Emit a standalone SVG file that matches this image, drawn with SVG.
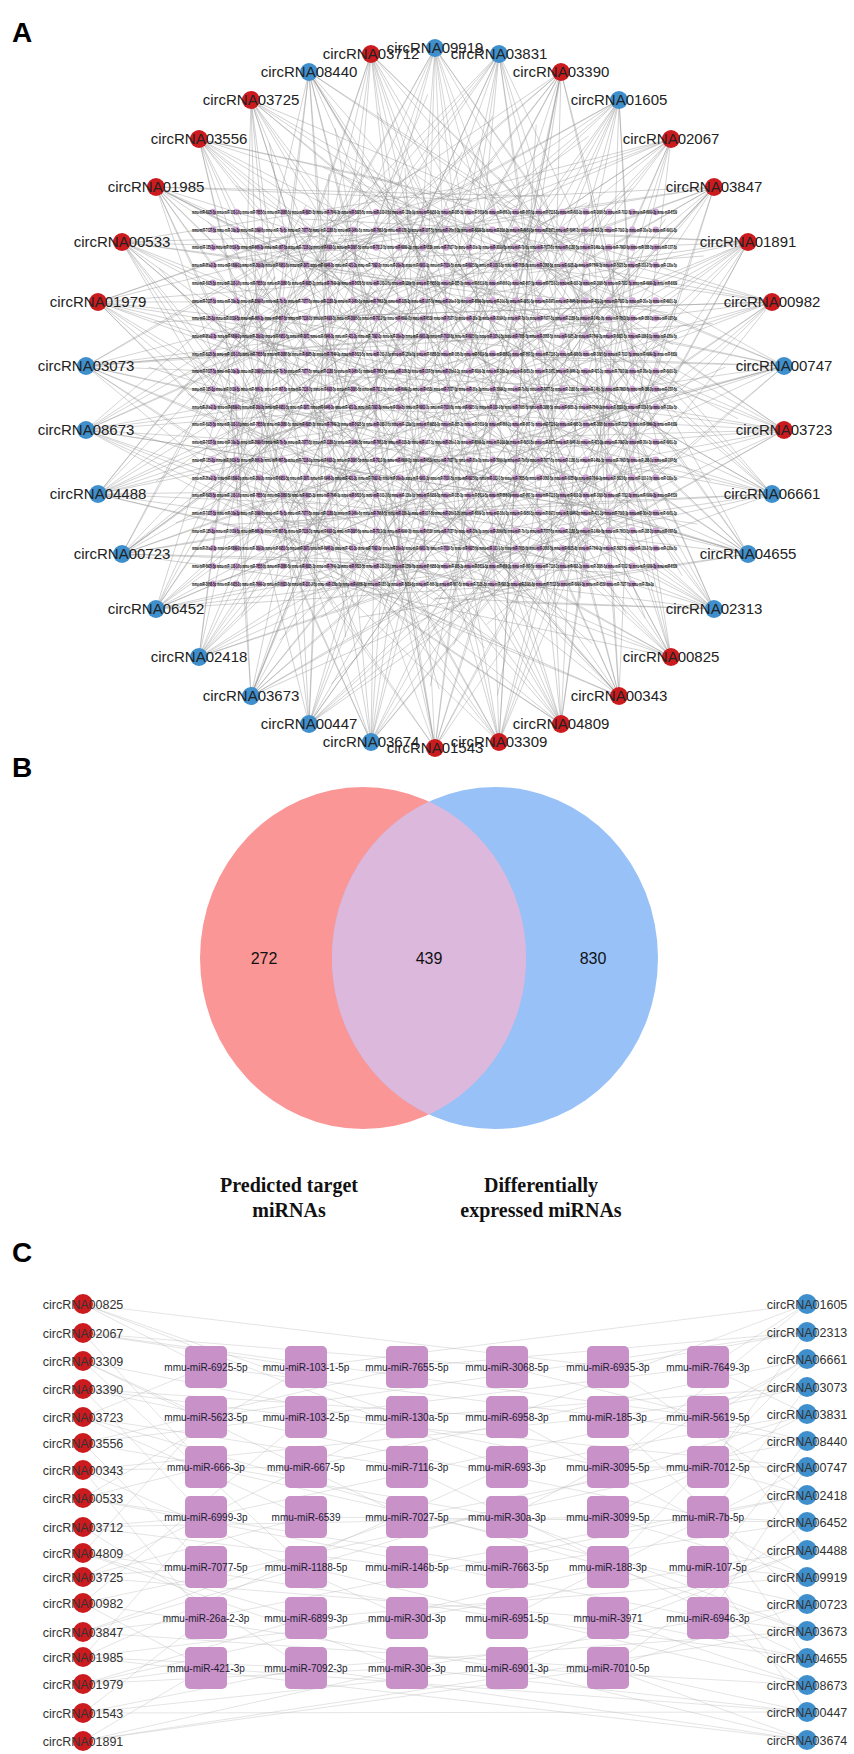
<svg xmlns="http://www.w3.org/2000/svg" xmlns:xlink="http://www.w3.org/1999/xlink" width="854" height="1754" viewBox="0 0 854 1754">
<style>
.panel{font:bold 28px "Liberation Sans",Arial,sans-serif;fill:#000}
.la{font:15px "Liberation Sans",Arial,sans-serif;fill:#222;text-anchor:middle}
.lc{font:12.5px "Liberation Sans",Arial,sans-serif;fill:#333;text-anchor:middle}
.mir{font:10px "Liberation Sans",Arial,sans-serif;fill:#1c1c30;text-anchor:middle}
.row{font:bold 5.5px "Liberation Sans",Arial,sans-serif;fill:#000}
.red{fill:#cc1b1f}
.blue{fill:#3f8fcd}
.dot{fill:#d2a5d8}
.box{fill:#c891c8}
.num{font:16px "Liberation Sans",Arial,sans-serif;fill:#111;text-anchor:middle}
.vlab{font:bold 20px "Liberation Serif","Times New Roman",serif;fill:#111;text-anchor:middle}
</style>
<defs>
<path id="fan1" d="M0 0L170 -120M0 0L210 70M0 0L250 -30M0 0L290 160M0 0L330 -190M0 0L370 100M0 0L410 -70M0 0L450 200M0 0L490 -140M0 0L530 40M0 0L570 -210M0 0L310 10M0 0L230 -160M0 0L390 220M0 0L470 -20"/>
<path id="fan2" d="M0 0L160 80M0 0L200 -90M0 0L240 140M0 0L280 -200M0 0L320 50M0 0L360 -120M0 0L400 180M0 0L440 -40M0 0L480 120M0 0L520 -180M0 0L560 10M0 0L600 150M0 0L270 -10M0 0L350 230M0 0L430 -230"/>
<path id="fan3" d="M0 0L180 -40M0 0L220 150M0 0L260 -180M0 0L300 90M0 0L340 -60M0 0L380 200M0 0L420 -150M0 0L460 60M0 0L500 -90M0 0L540 170M0 0L580 -30M0 0L250 30M0 0L320 -230M0 0L440 240M0 0L620 -100"/>
<g id="dots20">
<circle class="dot" cx="213" cy="0" r="3.3"/><circle class="dot" cx="236.3" cy="0" r="3.3"/><circle class="dot" cx="259.6" cy="0" r="3.3"/><circle class="dot" cx="282.9" cy="0" r="3.3"/><circle class="dot" cx="306.2" cy="0" r="3.3"/><circle class="dot" cx="329.5" cy="0" r="3.3"/><circle class="dot" cx="352.8" cy="0" r="3.3"/><circle class="dot" cx="376.1" cy="0" r="3.3"/><circle class="dot" cx="399.4" cy="0" r="3.3"/><circle class="dot" cx="422.7" cy="0" r="3.3"/><circle class="dot" cx="446" cy="0" r="3.3"/><circle class="dot" cx="469.3" cy="0" r="3.3"/><circle class="dot" cx="492.6" cy="0" r="3.3"/><circle class="dot" cx="515.9" cy="0" r="3.3"/><circle class="dot" cx="539.2" cy="0" r="3.3"/><circle class="dot" cx="562.5" cy="0" r="3.3"/><circle class="dot" cx="585.8" cy="0" r="3.3"/><circle class="dot" cx="609.1" cy="0" r="3.3"/><circle class="dot" cx="632.4" cy="0" r="3.3"/><circle class="dot" cx="655.7" cy="0" r="3.3"/>
</g>
<g id="dots19">
<circle class="dot" cx="213" cy="0" r="3.3"/><circle class="dot" cx="236.3" cy="0" r="3.3"/><circle class="dot" cx="259.6" cy="0" r="3.3"/><circle class="dot" cx="282.9" cy="0" r="3.3"/><circle class="dot" cx="306.2" cy="0" r="3.3"/><circle class="dot" cx="329.5" cy="0" r="3.3"/><circle class="dot" cx="352.8" cy="0" r="3.3"/><circle class="dot" cx="376.1" cy="0" r="3.3"/><circle class="dot" cx="399.4" cy="0" r="3.3"/><circle class="dot" cx="422.7" cy="0" r="3.3"/><circle class="dot" cx="446" cy="0" r="3.3"/><circle class="dot" cx="469.3" cy="0" r="3.3"/><circle class="dot" cx="492.6" cy="0" r="3.3"/><circle class="dot" cx="515.9" cy="0" r="3.3"/><circle class="dot" cx="539.2" cy="0" r="3.3"/><circle class="dot" cx="562.5" cy="0" r="3.3"/><circle class="dot" cx="585.8" cy="0" r="3.3"/><circle class="dot" cx="609.1" cy="0" r="3.3"/><circle class="dot" cx="632.4" cy="0" r="3.3"/>
</g>
<text id="r1" class="row" x="192" y="2" textLength="485" lengthAdjust="spacingAndGlyphs">mmu-miR-6925-5p mmu-miR-103-1-5p mmu-miR-7655-5p mmu-miR-3068-5p mmu-miR-6935-3p mmu-miR-7649-3p mmu-miR-5623-5p mmu-miR-103-2-5p mmu-miR-130a-5p mmu-miR-6958-3p mmu-miR-185-3p mmu-miR-5619-5p mmu-miR-666-3p mmu-miR-667-5p mmu-miR-7116-3p mmu-miR-693-3p mmu-miR-3095-5p mmu-miR-7012-5p mmu-miR-6999-3p mmu-miR-6539</text>
<text id="r2" class="row" x="192" y="2" textLength="485" lengthAdjust="spacingAndGlyphs">mmu-miR-7027-5p mmu-miR-30a-3p mmu-miR-3099-5p mmu-miR-7b-5p mmu-miR-7077-5p mmu-miR-1188-5p mmu-miR-146b-5p mmu-miR-7663-5p mmu-miR-188-3p mmu-miR-107-5p mmu-miR-26a-2-3p mmu-miR-6899-3p mmu-miR-30d-3p mmu-miR-6951-5p mmu-miR-3971 mmu-miR-6946-3p mmu-miR-421-3p mmu-miR-7092-3p mmu-miR-30e-3p mmu-miR-6901-3p</text>
<text id="r3" class="row" x="192" y="2" textLength="485" lengthAdjust="spacingAndGlyphs">mmu-miR-185-3p mmu-miR-5619-5p mmu-miR-666-3p mmu-miR-667-5p mmu-miR-7116-3p mmu-miR-693-3p mmu-miR-3095-5p mmu-miR-7012-5p mmu-miR-6999-3p mmu-miR-6539 mmu-miR-7027-5p mmu-miR-30a-3p mmu-miR-3099-5p mmu-miR-7b-5p mmu-miR-7077-5p mmu-miR-1188-5p mmu-miR-146b-5p mmu-miR-7663-5p mmu-miR-188-3p mmu-miR-107-5p</text>
<text id="r4" class="row" x="192" y="2" textLength="485" lengthAdjust="spacingAndGlyphs">mmu-miR-26a-2-3p mmu-miR-6899-3p mmu-miR-30d-3p mmu-miR-6951-5p mmu-miR-3971 mmu-miR-6946-3p mmu-miR-421-3p mmu-miR-7092-3p mmu-miR-30e-3p mmu-miR-6901-3p mmu-miR-7010-5p mmu-miR-6925-5p mmu-miR-103-1-5p mmu-miR-7655-5p mmu-miR-3068-5p mmu-miR-6935-3p mmu-miR-7649-3p mmu-miR-5623-5p mmu-miR-103-2-5p mmu-miR-130a-5p</text>
<text id="r5" class="row" x="192" y="2" textLength="462" lengthAdjust="spacingAndGlyphs">mmu-miR-3068-5p mmu-miR-6935-3p mmu-miR-7649-3p mmu-miR-5623-5p mmu-miR-103-2-5p mmu-miR-130a-5p mmu-miR-6958-3p mmu-miR-185-3p mmu-miR-5619-5p mmu-miR-666-3p mmu-miR-667-5p mmu-miR-7116-3p mmu-miR-693-3p mmu-miR-3095-5p mmu-miR-7012-5p mmu-miR-6999-3p mmu-miR-6539 mmu-miR-7027-5p mmu-miR-30a-3p</text>
</defs>
<rect width="854" height="1754" fill="#fff"/>

<text class="panel" x="12" y="42">A</text>
<text class="panel" x="12" y="777">B</text>
<text class="panel" x="12" y="1262">C</text>

<!-- Panel A connectors -->
<g id="edges-A" fill="none" stroke="#8c8c8c" stroke-width="0.7" stroke-opacity="0.5">
<use href="#fan1" transform="translate(435 48) rotate(90)"/>
<use href="#fan2" transform="translate(499 54) rotate(100.59)"/>
<use href="#fan3" transform="translate(561 72) rotate(111.18)"/>
<use href="#fan1" transform="translate(619 100) rotate(121.76)"/>
<use href="#fan2" transform="translate(671 139) rotate(132.35)"/>
<use href="#fan3" transform="translate(714 187) rotate(142.94)"/>
<use href="#fan1" transform="translate(748 242) rotate(153.53)"/>
<use href="#fan2" transform="translate(772 302) rotate(164.12)"/>
<use href="#fan3" transform="translate(784 366) rotate(174.71)"/>
<use href="#fan1" transform="translate(784 430) rotate(185.29)"/>
<use href="#fan2" transform="translate(772 494) rotate(195.88)"/>
<use href="#fan3" transform="translate(748 554) rotate(206.47)"/>
<use href="#fan1" transform="translate(714 609) rotate(217.06)"/>
<use href="#fan2" transform="translate(671 657) rotate(227.65)"/>
<use href="#fan3" transform="translate(619 696) rotate(238.24)"/>
<use href="#fan1" transform="translate(561 724) rotate(248.82)"/>
<use href="#fan2" transform="translate(499 742) rotate(259.41)"/>
<use href="#fan3" transform="translate(435 748) rotate(270)"/>
<use href="#fan1" transform="translate(371 742) rotate(280.59)"/>
<use href="#fan2" transform="translate(309 724) rotate(291.18)"/>
<use href="#fan3" transform="translate(251 696) rotate(301.76)"/>
<use href="#fan1" transform="translate(199 657) rotate(312.35)"/>
<use href="#fan2" transform="translate(156 609) rotate(322.94)"/>
<use href="#fan3" transform="translate(122 554) rotate(333.53)"/>
<use href="#fan1" transform="translate(98 494) rotate(344.12)"/>
<use href="#fan2" transform="translate(86 430) rotate(354.71)"/>
<use href="#fan3" transform="translate(86 366) rotate(5.29)"/>
<use href="#fan1" transform="translate(98 302) rotate(15.88)"/>
<use href="#fan2" transform="translate(122 242) rotate(26.47)"/>
<use href="#fan3" transform="translate(156 187) rotate(37.06)"/>
<use href="#fan1" transform="translate(199 139) rotate(47.65)"/>
<use href="#fan2" transform="translate(251 100) rotate(58.24)"/>
<use href="#fan3" transform="translate(309 72) rotate(68.82)"/>
<use href="#fan1" transform="translate(371 54) rotate(79.41)"/>
</g>

<!-- Panel A miRNA grid (439 miRNAs) -->
<g id="a-mirna-grid">
<use href="#dots20" y="212"/><use href="#dots20" y="229.7"/><use href="#dots20" y="247.4"/><use href="#dots20" y="265.1"/><use href="#dots20" y="282.8"/><use href="#dots20" y="300.5"/><use href="#dots20" y="318.2"/><use href="#dots20" y="335.9"/><use href="#dots20" y="353.6"/><use href="#dots20" y="371.3"/><use href="#dots20" y="389"/><use href="#dots20" y="406.7"/><use href="#dots20" y="424.4"/><use href="#dots20" y="442.1"/><use href="#dots20" y="459.8"/><use href="#dots20" y="477.5"/><use href="#dots20" y="495.2"/><use href="#dots20" y="512.9"/><use href="#dots20" y="530.6"/><use href="#dots20" y="548.3"/><use href="#dots20" y="566"/><use href="#dots19" y="583.7"/>
<use href="#r1" y="212"/><use href="#r2" y="229.7"/><use href="#r3" y="247.4"/><use href="#r4" y="265.1"/><use href="#r1" y="282.8"/><use href="#r2" y="300.5"/><use href="#r3" y="318.2"/><use href="#r4" y="335.9"/><use href="#r1" y="353.6"/><use href="#r2" y="371.3"/><use href="#r3" y="389"/><use href="#r4" y="406.7"/><use href="#r1" y="424.4"/><use href="#r2" y="442.1"/><use href="#r3" y="459.8"/><use href="#r4" y="477.5"/><use href="#r1" y="495.2"/><use href="#r2" y="512.9"/><use href="#r3" y="530.6"/><use href="#r4" y="548.3"/><use href="#r1" y="566"/><use href="#r5" y="583.7"/>
</g>

<!-- Panel A circRNA nodes -->
<g id="a-circRNA09919"><circle class="blue" cx="435" cy="48" r="9"/><text class="la" x="435" y="53">circRNA09919</text></g>
<g id="a-circRNA03831"><circle class="blue" cx="499" cy="54" r="9"/><text class="la" x="499" y="59">circRNA03831</text></g>
<g id="a-circRNA03390"><circle class="red" cx="561" cy="72" r="9"/><text class="la" x="561" y="77">circRNA03390</text></g>
<g id="a-circRNA01605"><circle class="blue" cx="619" cy="100" r="9"/><text class="la" x="619" y="105">circRNA01605</text></g>
<g id="a-circRNA02067"><circle class="red" cx="671" cy="139" r="9"/><text class="la" x="671" y="144">circRNA02067</text></g>
<g id="a-circRNA03847"><circle class="red" cx="714" cy="187" r="9"/><text class="la" x="714" y="192">circRNA03847</text></g>
<g id="a-circRNA01891"><circle class="red" cx="748" cy="242" r="9"/><text class="la" x="748" y="247">circRNA01891</text></g>
<g id="a-circRNA00982"><circle class="red" cx="772" cy="302" r="9"/><text class="la" x="772" y="307">circRNA00982</text></g>
<g id="a-circRNA00747"><circle class="blue" cx="784" cy="366" r="9"/><text class="la" x="784" y="371">circRNA00747</text></g>
<g id="a-circRNA03723"><circle class="red" cx="784" cy="430" r="9"/><text class="la" x="784" y="435">circRNA03723</text></g>
<g id="a-circRNA06661"><circle class="blue" cx="772" cy="494" r="9"/><text class="la" x="772" y="499">circRNA06661</text></g>
<g id="a-circRNA04655"><circle class="blue" cx="748" cy="554" r="9"/><text class="la" x="748" y="559">circRNA04655</text></g>
<g id="a-circRNA02313"><circle class="blue" cx="714" cy="609" r="9"/><text class="la" x="714" y="614">circRNA02313</text></g>
<g id="a-circRNA00825"><circle class="red" cx="671" cy="657" r="9"/><text class="la" x="671" y="662">circRNA00825</text></g>
<g id="a-circRNA00343"><circle class="red" cx="619" cy="696" r="9"/><text class="la" x="619" y="701">circRNA00343</text></g>
<g id="a-circRNA04809"><circle class="red" cx="561" cy="724" r="9"/><text class="la" x="561" y="729">circRNA04809</text></g>
<g id="a-circRNA03309"><circle class="red" cx="499" cy="742" r="9"/><text class="la" x="499" y="747">circRNA03309</text></g>
<g id="a-circRNA01543"><circle class="red" cx="435" cy="748" r="9"/><text class="la" x="435" y="753">circRNA01543</text></g>
<g id="a-circRNA03674"><circle class="blue" cx="371" cy="742" r="9"/><text class="la" x="371" y="747">circRNA03674</text></g>
<g id="a-circRNA00447"><circle class="blue" cx="309" cy="724" r="9"/><text class="la" x="309" y="729">circRNA00447</text></g>
<g id="a-circRNA03673"><circle class="blue" cx="251" cy="696" r="9"/><text class="la" x="251" y="701">circRNA03673</text></g>
<g id="a-circRNA02418"><circle class="blue" cx="199" cy="657" r="9"/><text class="la" x="199" y="662">circRNA02418</text></g>
<g id="a-circRNA06452"><circle class="blue" cx="156" cy="609" r="9"/><text class="la" x="156" y="614">circRNA06452</text></g>
<g id="a-circRNA00723"><circle class="blue" cx="122" cy="554" r="9"/><text class="la" x="122" y="559">circRNA00723</text></g>
<g id="a-circRNA04488"><circle class="blue" cx="98" cy="494" r="9"/><text class="la" x="98" y="499">circRNA04488</text></g>
<g id="a-circRNA08673"><circle class="blue" cx="86" cy="430" r="9"/><text class="la" x="86" y="435">circRNA08673</text></g>
<g id="a-circRNA03073"><circle class="blue" cx="86" cy="366" r="9"/><text class="la" x="86" y="371">circRNA03073</text></g>
<g id="a-circRNA01979"><circle class="red" cx="98" cy="302" r="9"/><text class="la" x="98" y="307">circRNA01979</text></g>
<g id="a-circRNA00533"><circle class="red" cx="122" cy="242" r="9"/><text class="la" x="122" y="247">circRNA00533</text></g>
<g id="a-circRNA01985"><circle class="red" cx="156" cy="187" r="9"/><text class="la" x="156" y="192">circRNA01985</text></g>
<g id="a-circRNA03556"><circle class="red" cx="199" cy="139" r="9"/><text class="la" x="199" y="144">circRNA03556</text></g>
<g id="a-circRNA03725"><circle class="red" cx="251" cy="100" r="9"/><text class="la" x="251" y="105">circRNA03725</text></g>
<g id="a-circRNA08440"><circle class="blue" cx="309" cy="72" r="9"/><text class="la" x="309" y="77">circRNA08440</text></g>
<g id="a-circRNA03712"><circle class="red" cx="371" cy="54" r="9"/><text class="la" x="371" y="59">circRNA03712</text></g>

<!-- Panel B Venn -->
<g id="venn">
<g id="set-predicted"><ellipse cx="363" cy="958" rx="163" ry="171" fill="#fa9696"/></g>
<g id="set-differential"><ellipse cx="495" cy="958" rx="163" ry="171" fill="#97c1f7"/></g>
<g id="set-overlap"><path d="M429 801.6A163 171 0 0 0 429 1114.4A163 171 0 0 0 429 801.6Z" fill="#ddb8dd"/></g>
<text class="num" x="264" y="964">272</text>
<text class="num" x="429" y="964">439</text>
<text class="num" x="593" y="964">830</text>
<text class="vlab" x="289" y="1192">Predicted target</text>
<text class="vlab" x="289" y="1217">miRNAs</text>
<text class="vlab" x="541" y="1192">Differentially</text>
<text class="vlab" x="541" y="1217">expressed miRNAs</text>
</g>

<!-- Panel C connectors -->
<g id="edges-C" fill="none" stroke="#b4b4b4" stroke-width="0.6" stroke-opacity="0.6">
<path d="M83 1304L206 1367M83 1304L407 1417M83 1304L608 1367M83 1304L507 1467M83 1333L306 1367M83 1333L206 1467M83 1333L708 1417M83 1333L507 1367M83 1361L206 1417M83 1361L407 1517M83 1361L608 1467M83 1361L306 1567M83 1389L306 1417M83 1389L507 1417M83 1389L206 1517M83 1389L708 1517M83 1417L206 1367M83 1417L407 1467M83 1417L608 1567M83 1417L306 1517M83 1443L206 1567M83 1443L507 1517M83 1443L407 1367M83 1443L708 1367M83 1470L306 1467M83 1470L206 1618M83 1470L608 1417M83 1470L407 1618M83 1498L206 1467M83 1498L507 1567M83 1498L306 1367M83 1498L708 1618M83 1527L206 1517M83 1527L407 1567M83 1527L306 1668M83 1527L608 1517M83 1553L306 1618M83 1553L206 1417M83 1553L507 1618M83 1553L407 1668M83 1577L206 1567M83 1577L407 1417M83 1577L608 1618M83 1577L306 1517M83 1603L206 1668M83 1603L507 1668M83 1603L306 1417M83 1603L708 1467M83 1632L206 1618M83 1632L407 1517M83 1632L608 1668M83 1632L306 1567M83 1657L306 1668M83 1657L206 1517M83 1657L507 1467M83 1657L407 1618M83 1684L206 1668M83 1684L407 1668M83 1684L608 1567M83 1684L306 1618M83 1713L206 1618M83 1713L507 1668M83 1713L306 1668M83 1713L807 1712M83 1741L206 1668M83 1741L407 1668M83 1741L608 1668M83 1741L807 1631"/>
<path d="M807 1304L708 1367M807 1304L507 1417M807 1304L306 1367M807 1304L608 1467M807 1332L608 1367M807 1332L708 1467M807 1332L206 1417M807 1332L407 1367M807 1359L708 1417M807 1359L507 1517M807 1359L306 1467M807 1359L608 1567M807 1387L608 1417M807 1387L407 1417M807 1387L708 1517M807 1387L206 1517M807 1414L708 1367M807 1414L507 1467M807 1414L306 1567M807 1414L608 1517M807 1441L708 1567M807 1441L407 1517M807 1441L507 1367M807 1441L206 1367M807 1467L608 1467M807 1467L708 1618M807 1467L306 1417M807 1467L507 1618M807 1495L708 1467M807 1495L407 1567M807 1495L608 1367M807 1495L206 1618M807 1522L708 1517M807 1522L507 1567M807 1522L608 1668M807 1522L306 1517M807 1550L608 1618M807 1550L708 1417M807 1550L407 1618M807 1550L507 1668M807 1577L708 1567M807 1577L507 1417M807 1577L306 1618M807 1577L608 1517M807 1604L608 1668M807 1604L407 1668M807 1604L608 1417M807 1604L206 1467M807 1631L708 1618M807 1631L507 1517M807 1631L306 1668M807 1631L608 1567M807 1658L608 1618M807 1658L708 1517M807 1658L407 1467M807 1658L507 1618M807 1685L708 1618M807 1685L507 1668M807 1685L306 1567M807 1685L608 1618M807 1712L708 1567M807 1712L407 1668M807 1712L206 1668M807 1712L608 1668M807 1740L608 1668M807 1740L507 1668M807 1740L306 1668M807 1740L83 1657"/>
</g>

<!-- Panel C miRNA nodes -->
<g id="c-mir-6925-5p"><rect class="box" x="185" y="1346" width="42" height="42" rx="5"/><text class="mir" x="206" y="1371">mmu-miR-6925-5p</text></g>
<g id="c-mir-103-1-5p"><rect class="box" x="285" y="1346" width="42" height="42" rx="5"/><text class="mir" x="306" y="1371">mmu-miR-103-1-5p</text></g>
<g id="c-mir-7655-5p"><rect class="box" x="386" y="1346" width="42" height="42" rx="5"/><text class="mir" x="407" y="1371">mmu-miR-7655-5p</text></g>
<g id="c-mir-3068-5p"><rect class="box" x="486" y="1346" width="42" height="42" rx="5"/><text class="mir" x="507" y="1371">mmu-miR-3068-5p</text></g>
<g id="c-mir-6935-3p"><rect class="box" x="587" y="1346" width="42" height="42" rx="5"/><text class="mir" x="608" y="1371">mmu-miR-6935-3p</text></g>
<g id="c-mir-7649-3p"><rect class="box" x="687" y="1346" width="42" height="42" rx="5"/><text class="mir" x="708" y="1371">mmu-miR-7649-3p</text></g>

<g id="c-mir-5623-5p"><rect class="box" x="185" y="1396" width="42" height="42" rx="5"/><text class="mir" x="206" y="1421">mmu-miR-5623-5p</text></g>
<g id="c-mir-103-2-5p"><rect class="box" x="285" y="1396" width="42" height="42" rx="5"/><text class="mir" x="306" y="1421">mmu-miR-103-2-5p</text></g>
<g id="c-mir-130a-5p"><rect class="box" x="386" y="1396" width="42" height="42" rx="5"/><text class="mir" x="407" y="1421">mmu-miR-130a-5p</text></g>
<g id="c-mir-6958-3p"><rect class="box" x="486" y="1396" width="42" height="42" rx="5"/><text class="mir" x="507" y="1421">mmu-miR-6958-3p</text></g>
<g id="c-mir-185-3p"><rect class="box" x="587" y="1396" width="42" height="42" rx="5"/><text class="mir" x="608" y="1421">mmu-miR-185-3p</text></g>
<g id="c-mir-5619-5p"><rect class="box" x="687" y="1396" width="42" height="42" rx="5"/><text class="mir" x="708" y="1421">mmu-miR-5619-5p</text></g>

<g id="c-mir-666-3p"><rect class="box" x="185" y="1446" width="42" height="42" rx="5"/><text class="mir" x="206" y="1471">mmu-miR-666-3p</text></g>
<g id="c-mir-667-5p"><rect class="box" x="285" y="1446" width="42" height="42" rx="5"/><text class="mir" x="306" y="1471">mmu-miR-667-5p</text></g>
<g id="c-mir-7116-3p"><rect class="box" x="386" y="1446" width="42" height="42" rx="5"/><text class="mir" x="407" y="1471">mmu-miR-7116-3p</text></g>
<g id="c-mir-693-3p"><rect class="box" x="486" y="1446" width="42" height="42" rx="5"/><text class="mir" x="507" y="1471">mmu-miR-693-3p</text></g>
<g id="c-mir-3095-5p"><rect class="box" x="587" y="1446" width="42" height="42" rx="5"/><text class="mir" x="608" y="1471">mmu-miR-3095-5p</text></g>
<g id="c-mir-7012-5p"><rect class="box" x="687" y="1446" width="42" height="42" rx="5"/><text class="mir" x="708" y="1471">mmu-miR-7012-5p</text></g>

<g id="c-mir-6999-3p"><rect class="box" x="185" y="1496" width="42" height="42" rx="5"/><text class="mir" x="206" y="1521">mmu-miR-6999-3p</text></g>
<g id="c-mir-6539"><rect class="box" x="285" y="1496" width="42" height="42" rx="5"/><text class="mir" x="306" y="1521">mmu-miR-6539</text></g>
<g id="c-mir-7027-5p"><rect class="box" x="386" y="1496" width="42" height="42" rx="5"/><text class="mir" x="407" y="1521">mmu-miR-7027-5p</text></g>
<g id="c-mir-30a-3p"><rect class="box" x="486" y="1496" width="42" height="42" rx="5"/><text class="mir" x="507" y="1521">mmu-miR-30a-3p</text></g>
<g id="c-mir-3099-5p"><rect class="box" x="587" y="1496" width="42" height="42" rx="5"/><text class="mir" x="608" y="1521">mmu-miR-3099-5p</text></g>
<g id="c-mir-7b-5p"><rect class="box" x="687" y="1496" width="42" height="42" rx="5"/><text class="mir" x="708" y="1521">mmu-miR-7b-5p</text></g>

<g id="c-mir-7077-5p"><rect class="box" x="185" y="1546" width="42" height="42" rx="5"/><text class="mir" x="206" y="1571">mmu-miR-7077-5p</text></g>
<g id="c-mir-1188-5p"><rect class="box" x="285" y="1546" width="42" height="42" rx="5"/><text class="mir" x="306" y="1571">mmu-miR-1188-5p</text></g>
<g id="c-mir-146b-5p"><rect class="box" x="386" y="1546" width="42" height="42" rx="5"/><text class="mir" x="407" y="1571">mmu-miR-146b-5p</text></g>
<g id="c-mir-7663-5p"><rect class="box" x="486" y="1546" width="42" height="42" rx="5"/><text class="mir" x="507" y="1571">mmu-miR-7663-5p</text></g>
<g id="c-mir-188-3p"><rect class="box" x="587" y="1546" width="42" height="42" rx="5"/><text class="mir" x="608" y="1571">mmu-miR-188-3p</text></g>
<g id="c-mir-107-5p"><rect class="box" x="687" y="1546" width="42" height="42" rx="5"/><text class="mir" x="708" y="1571">mmu-miR-107-5p</text></g>

<g id="c-mir-26a-2-3p"><rect class="box" x="185" y="1597" width="42" height="42" rx="5"/><text class="mir" x="206" y="1622">mmu-miR-26a-2-3p</text></g>
<g id="c-mir-6899-3p"><rect class="box" x="285" y="1597" width="42" height="42" rx="5"/><text class="mir" x="306" y="1622">mmu-miR-6899-3p</text></g>
<g id="c-mir-30d-3p"><rect class="box" x="386" y="1597" width="42" height="42" rx="5"/><text class="mir" x="407" y="1622">mmu-miR-30d-3p</text></g>
<g id="c-mir-6951-5p"><rect class="box" x="486" y="1597" width="42" height="42" rx="5"/><text class="mir" x="507" y="1622">mmu-miR-6951-5p</text></g>
<g id="c-mir-3971"><rect class="box" x="587" y="1597" width="42" height="42" rx="5"/><text class="mir" x="608" y="1622">mmu-miR-3971</text></g>
<g id="c-mir-6946-3p"><rect class="box" x="687" y="1597" width="42" height="42" rx="5"/><text class="mir" x="708" y="1622">mmu-miR-6946-3p</text></g>

<g id="c-mir-421-3p"><rect class="box" x="185" y="1647" width="42" height="42" rx="5"/><text class="mir" x="206" y="1672">mmu-miR-421-3p</text></g>
<g id="c-mir-7092-3p"><rect class="box" x="285" y="1647" width="42" height="42" rx="5"/><text class="mir" x="306" y="1672">mmu-miR-7092-3p</text></g>
<g id="c-mir-30e-3p"><rect class="box" x="386" y="1647" width="42" height="42" rx="5"/><text class="mir" x="407" y="1672">mmu-miR-30e-3p</text></g>
<g id="c-mir-6901-3p"><rect class="box" x="486" y="1647" width="42" height="42" rx="5"/><text class="mir" x="507" y="1672">mmu-miR-6901-3p</text></g>
<g id="c-mir-7010-5p"><rect class="box" x="587" y="1647" width="42" height="42" rx="5"/><text class="mir" x="608" y="1672">mmu-miR-7010-5p</text></g>

<!-- Panel C circRNA nodes, left (red) -->
<g id="c-circRNA00825"><circle class="red" cx="83" cy="1304" r="10"/><text class="lc" x="83" y="1308.5">circRNA00825</text></g>
<g id="c-circRNA02067"><circle class="red" cx="83" cy="1333" r="10"/><text class="lc" x="83" y="1337.5">circRNA02067</text></g>
<g id="c-circRNA03309"><circle class="red" cx="83" cy="1361" r="10"/><text class="lc" x="83" y="1365.5">circRNA03309</text></g>
<g id="c-circRNA03390"><circle class="red" cx="83" cy="1389" r="10"/><text class="lc" x="83" y="1393.5">circRNA03390</text></g>
<g id="c-circRNA03723"><circle class="red" cx="83" cy="1417" r="10"/><text class="lc" x="83" y="1421.5">circRNA03723</text></g>
<g id="c-circRNA03556"><circle class="red" cx="83" cy="1443" r="10"/><text class="lc" x="83" y="1447.5">circRNA03556</text></g>
<g id="c-circRNA00343"><circle class="red" cx="83" cy="1470" r="10"/><text class="lc" x="83" y="1474.5">circRNA00343</text></g>
<g id="c-circRNA00533"><circle class="red" cx="83" cy="1498" r="10"/><text class="lc" x="83" y="1502.5">circRNA00533</text></g>
<g id="c-circRNA03712"><circle class="red" cx="83" cy="1527" r="10"/><text class="lc" x="83" y="1531.5">circRNA03712</text></g>
<g id="c-circRNA04809"><circle class="red" cx="83" cy="1553" r="10"/><text class="lc" x="83" y="1557.5">circRNA04809</text></g>
<g id="c-circRNA03725"><circle class="red" cx="83" cy="1577" r="10"/><text class="lc" x="83" y="1581.5">circRNA03725</text></g>
<g id="c-circRNA00982"><circle class="red" cx="83" cy="1603" r="10"/><text class="lc" x="83" y="1607.5">circRNA00982</text></g>
<g id="c-circRNA03847"><circle class="red" cx="83" cy="1632" r="10"/><text class="lc" x="83" y="1636.5">circRNA03847</text></g>
<g id="c-circRNA01985"><circle class="red" cx="83" cy="1657" r="10"/><text class="lc" x="83" y="1661.5">circRNA01985</text></g>
<g id="c-circRNA01979"><circle class="red" cx="83" cy="1684" r="10"/><text class="lc" x="83" y="1688.5">circRNA01979</text></g>
<g id="c-circRNA01543"><circle class="red" cx="83" cy="1713" r="10"/><text class="lc" x="83" y="1717.5">circRNA01543</text></g>
<g id="c-circRNA01891"><circle class="red" cx="83" cy="1741" r="10"/><text class="lc" x="83" y="1745.5">circRNA01891</text></g>

<!-- Panel C circRNA nodes, right (blue) -->
<g id="c-circRNA01605"><circle class="blue" cx="807" cy="1304" r="10"/><text class="lc" x="807" y="1308.5">circRNA01605</text></g>
<g id="c-circRNA02313"><circle class="blue" cx="807" cy="1332" r="10"/><text class="lc" x="807" y="1336.5">circRNA02313</text></g>
<g id="c-circRNA06661"><circle class="blue" cx="807" cy="1359" r="10"/><text class="lc" x="807" y="1363.5">circRNA06661</text></g>
<g id="c-circRNA03073"><circle class="blue" cx="807" cy="1387" r="10"/><text class="lc" x="807" y="1391.5">circRNA03073</text></g>
<g id="c-circRNA03831"><circle class="blue" cx="807" cy="1414" r="10"/><text class="lc" x="807" y="1418.5">circRNA03831</text></g>
<g id="c-circRNA08440"><circle class="blue" cx="807" cy="1441" r="10"/><text class="lc" x="807" y="1445.5">circRNA08440</text></g>
<g id="c-circRNA00747"><circle class="blue" cx="807" cy="1467" r="10"/><text class="lc" x="807" y="1471.5">circRNA00747</text></g>
<g id="c-circRNA02418"><circle class="blue" cx="807" cy="1495" r="10"/><text class="lc" x="807" y="1499.5">circRNA02418</text></g>
<g id="c-circRNA06452"><circle class="blue" cx="807" cy="1522" r="10"/><text class="lc" x="807" y="1526.5">circRNA06452</text></g>
<g id="c-circRNA04488"><circle class="blue" cx="807" cy="1550" r="10"/><text class="lc" x="807" y="1554.5">circRNA04488</text></g>
<g id="c-circRNA09919"><circle class="blue" cx="807" cy="1577" r="10"/><text class="lc" x="807" y="1581.5">circRNA09919</text></g>
<g id="c-circRNA00723"><circle class="blue" cx="807" cy="1604" r="10"/><text class="lc" x="807" y="1608.5">circRNA00723</text></g>
<g id="c-circRNA03673"><circle class="blue" cx="807" cy="1631" r="10"/><text class="lc" x="807" y="1635.5">circRNA03673</text></g>
<g id="c-circRNA04655"><circle class="blue" cx="807" cy="1658" r="10"/><text class="lc" x="807" y="1662.5">circRNA04655</text></g>
<g id="c-circRNA08673"><circle class="blue" cx="807" cy="1685" r="10"/><text class="lc" x="807" y="1689.5">circRNA08673</text></g>
<g id="c-circRNA00447"><circle class="blue" cx="807" cy="1712" r="10"/><text class="lc" x="807" y="1716.5">circRNA00447</text></g>
<g id="c-circRNA03674"><circle class="blue" cx="807" cy="1740" r="10"/><text class="lc" x="807" y="1744.5">circRNA03674</text></g>
</svg>
